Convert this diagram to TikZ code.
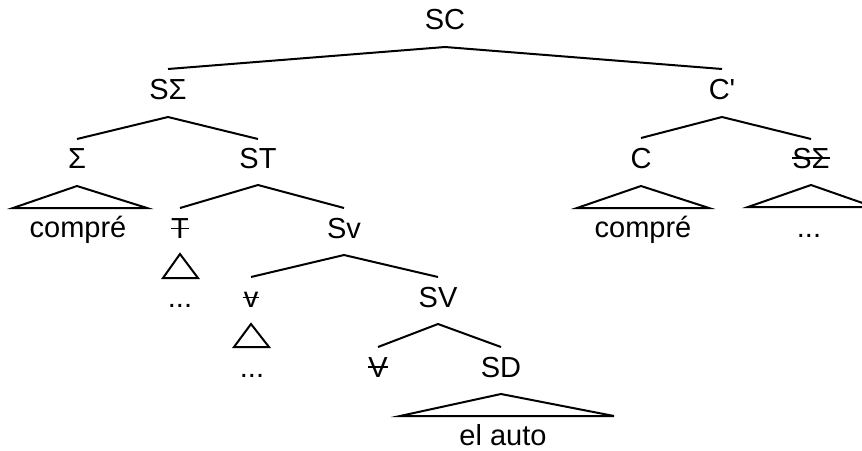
\documentclass[tikz,border=0pt]{standalone}
\usepackage{fontspec}
\setmainfont{Liberation Sans}
\newfontfamily\nomapfont{Liberation Sans}
\begin{document}
\begin{tikzpicture}[x=1pt,y=-1pt,
  lab/.style={anchor=base,inner sep=0pt,font=\fontsize{29}{32}\selectfont},
  edge/.style={line width=2pt},
  strk/.style={line width=1.6pt},
  tri/.style={line width=2pt,line join=miter}]
\useasboundingbox (0,0) rectangle (862,450);
\clip (0,0) rectangle (862,450);
% labels
\node[lab] (SC) at (445,29) {SC};
\node[lab] (SS) at (168,99) {SΣ};
\node[lab] (Cb) at (722,99) {C{\nomapfont '}};
\node[lab] (Sig) at (77,168) {Σ};
\node[lab] (ST) at (258,168) {ST};
\node[lab] (C) at (641,168) {C};
\node[lab] (SSb) at (811,168) {SΣ};
\node[lab] (compA) at (78,237) {compré};
\node[lab] (T) at (180,238) {T};
\node[lab] (Sv) at (344,238) {Sv};
\node[lab] (compB) at (643,237) {compré};
\node[lab] (dotsC) at (809,237) {...};
\node[lab] (dotsA) at (180,307) {...};
\node[lab] (v) at (251,307) {v};
\node[lab] (SV) at (438,307) {SV};
\node[lab] (dotsB) at (252,377) {...};
\node[lab] (V) at (378,377) {V};
\node[lab] (SD) at (501,377) {SD};
\node[lab] (auto) at (503,445) {el auto};
% strike-throughs
\draw[strk] ([yshift=9.5pt]T.base west) -- ([yshift=9.5pt]T.base east);
\draw[strk] ([yshift=9.5pt,xshift=-1pt]v.base west) -- ([yshift=9.5pt,xshift=1pt]v.base east);
\draw[strk] ([yshift=10pt]V.base west) -- ([yshift=10pt]V.base east);
\draw[strk] ([yshift=10pt]SSb.base west) -- ([yshift=10pt]SSb.base east);
% branches
\draw[edge] ([yshift=30pt]SS.base) -- ([yshift=-18pt]SC.base) -- ([yshift=30pt]Cb.base);
\draw[edge] ([yshift=29pt]Sig.base) -- ([yshift=-18pt]SS.base) -- ([yshift=29pt]ST.base);
\draw[edge] ([yshift=30pt]C.base) -- ([yshift=-18pt]Cb.base) -- ([yshift=29pt]SSb.base);
\draw[edge] ([yshift=30pt]T.base) -- ([yshift=-17pt]ST.base) -- ([yshift=30pt]Sv.base);
\draw[edge] ([yshift=30pt]v.base) -- ([yshift=-17pt]Sv.base) -- ([yshift=30pt]SV.base);
\draw[edge] ([yshift=30pt]V.base) -- ([yshift=-17pt]SV.base) -- ([yshift=30pt]SD.base);
% triangles
\draw[tri] ([yshift=-18pt]Sig.base) -- ++(-64,22) -- ++(134,0) -- cycle;
\draw[tri] ([yshift=-18pt]C.base) -- ++(-64,22) -- ++(132,0) -- cycle;
\draw[tri] ([yshift=-17pt]SSb.base) -- ++(-63,22) -- ++(126,0) -- cycle;
\draw[tri] ([yshift=-16pt]T.base) -- ++(-17,24) -- ++(35,0) -- cycle;
\draw[tri] ([yshift=-17pt]v.base) -- ++(-17,23) -- ++(35,0) -- cycle;
\draw[tri] ([yshift=-17pt]SD.base) -- ++(-101,22) -- ++(214,0) -- cycle;
\end{tikzpicture}
\end{document}
